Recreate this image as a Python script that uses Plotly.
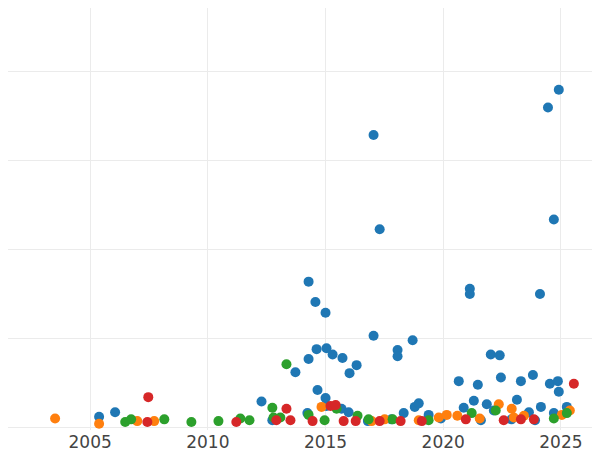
import plotly.graph_objects as go

blue_x = [2005.38,2006.06,2012.28,2012.74,2013.72,2014.28,2014.28,2014.57,2014.66,2014.62,2015.0,2015.04,2015.0,2015.3,2015.72,2016.02,2016.32,2015.04,2015.68,2017.04,2017.04,2017.3,2018.06,2018.06,2018.7,2018.79,2018.96,2020.66,2021.13,2021.13,2021.47,2021.3,2021.85,2022.02,2022.4,2022.45,2023.13,2023.3,2023.81,2024.11,2024.45,2024.53,2024.7,2024.87,2024.91,2024.91,2025.25,2024.15,2014.23,2018.32,2020.87,2022.15,2023.64,2024.7,2019.38,2015.98,2017.8,2019.9,2021.6,2022.9,2016.8,2023.9]
blue_y = [1.2,1.7,2.9,0.8,6.2,16.4,7.7,14.1,4.2,8.8,12.9,8.9,3.3,8.2,7.8,6.1,7.0,2.4,2.1,32.9,10.3,22.3,8.7,8.0,9.8,2.3,2.7,5.2,15.6,15.0,4.8,3.0,2.6,8.2,8.1,5.6,3.1,5.2,5.9,15.0,36.0,4.9,23.4,5.2,38.0,4.0,2.3,2.3,1.6,1.6,2.2,1.9,1.7,1.6,1.4,1.7,0.9,1.0,0.8,0.9,0.7,0.8]
orange_x = [2003.51,2005.38,2007.0,2007.72,2014.83,2016.96,2017.51,2019.81,2022.36,2022.91,2025.04,2025.38,2020.15,2018.96,2021.55,2023.43,2020.6,2023.0]
orange_y = [1.0,0.4,0.7,0.7,2.3,0.7,0.9,1.1,2.6,2.1,1.4,1.9,1.4,0.8,1.0,1.3,1.3,1.1]
green_x = [2006.49,2006.74,2008.15,2009.3,2010.45,2011.38,2011.77,2012.74,2013.34,2012.79,2014.28,2014.96,2015.47,2016.36,2017.85,2019.38,2021.21,2022.23,2024.7,2025.25,2013.08,2016.83]
green_y = [0.6,0.9,0.9,0.6,0.7,1.0,0.8,2.2,7.1,1.1,1.4,0.8,2.1,1.3,0.9,0.8,1.6,1.9,1.0,1.6,1.1,0.9]
red_x = [2007.47,2007.43,2011.21,2012.91,2013.34,2013.51,2014.45,2015.21,2015.43,2015.77,2016.28,2017.3,2018.19,2019.09,2020.96,2022.57,2023.3,2025.55,2023.85]
red_y = [3.4,0.6,0.6,0.8,2.1,0.8,0.7,2.4,2.5,0.7,0.7,0.7,0.7,0.7,0.9,0.8,0.9,4.9,0.9]

fig = go.Figure()
for xs, ys, c in [(blue_x, blue_y, "#1f77b4"), (orange_x, orange_y, "#ff7f0e"),
                  (green_x, green_y, "#2ca02c"), (red_x, red_y, "#d62728")]:
    fig.add_trace(go.Scatter(x=xs, y=ys, mode="markers", cliponaxis=False,
                             marker=dict(color=c, size=10)))
fig.update_layout(
    width=600, height=450, showlegend=False,
    margin=dict(l=0, r=0, t=0, b=28, pad=0, autoexpand=False),
    plot_bgcolor="white", paper_bgcolor="white",
    font=dict(family="DejaVu Sans", size=17, color="#444"),
    xaxis=dict(range=[2001.51, 2027.0], tickvals=[2005, 2010, 2015, 2020, 2025],
               showgrid=True, gridcolor="#ebebeb", zeroline=False, ticklen=0),
    yaxis=dict(range=[-0.3, 47.2], dtick=10, showticklabels=False,
               showgrid=True, gridcolor="#ebebeb", zeroline=False),
)
fig.write_html("out.html")
